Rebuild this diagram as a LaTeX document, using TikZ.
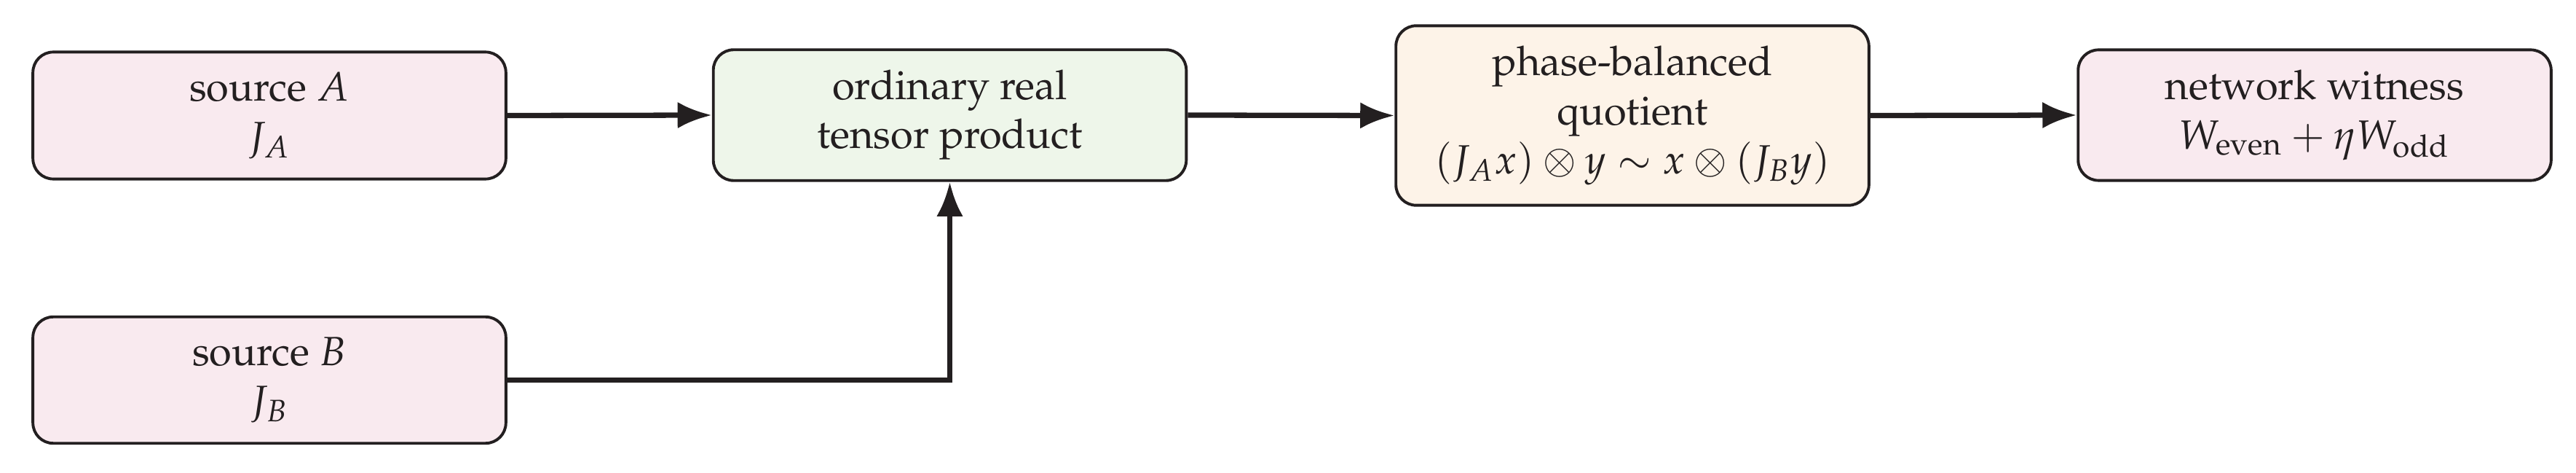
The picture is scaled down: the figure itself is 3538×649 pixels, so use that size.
\documentclass[tikz,border=0pt]{standalone}
\usepackage[T1]{fontenc}
\usepackage{mathpazo}
\usetikzlibrary{arrows.meta}
\definecolor{ink}{HTML}{231F20}
\definecolor{pinkfill}{HTML}{F9EAEF}
\definecolor{greenfill}{HTML}{EEF6EA}
\definecolor{creamfill}{HTML}{FDF3E8}
\tikzset{
  box/.style={draw=ink, line width=0.7pt, rounded corners=5pt, minimum width=116pt,
    inner xsep=4pt, inner ysep=5pt, align=center, text=ink},
  flow/.style={draw=ink, line width=1.3pt, -{Latex[length=8.4pt,width=6.5pt]}}
}
\begin{document}
\begin{tikzpicture}[x=0.17857pt, y=-0.17857pt]
\useasboundingbox (0,0) rectangle (3538,649);
\node[box, fill=pinkfill] (A) at (370,158.5) {source $A$\\$J_A$};
\node[box, fill=pinkfill] (B) at (370,521.5) {source $B$\\$J_B$};
\node[box, fill=greenfill] (T) at (1304.5,158) {ordinary real\\tensor product};
\node[box, fill=creamfill] (Q) at (2242,158.5) {phase-balanced\\quotient\\$(J_Ax)\otimes y\sim x\otimes(J_By)$};
\node[box, fill=pinkfill] (W) at (3179,158) {network witness\\$W_{\mathrm{even}}+\eta W_{\mathrm{odd}}$};
\draw[flow] (A.east) -- (T.west);
\draw[flow] (T.east) -- (Q.west);
\draw[flow] (Q.east) -- (W.west);
\draw[flow] (B.east) -| (T.south);
\end{tikzpicture}
\end{document}
